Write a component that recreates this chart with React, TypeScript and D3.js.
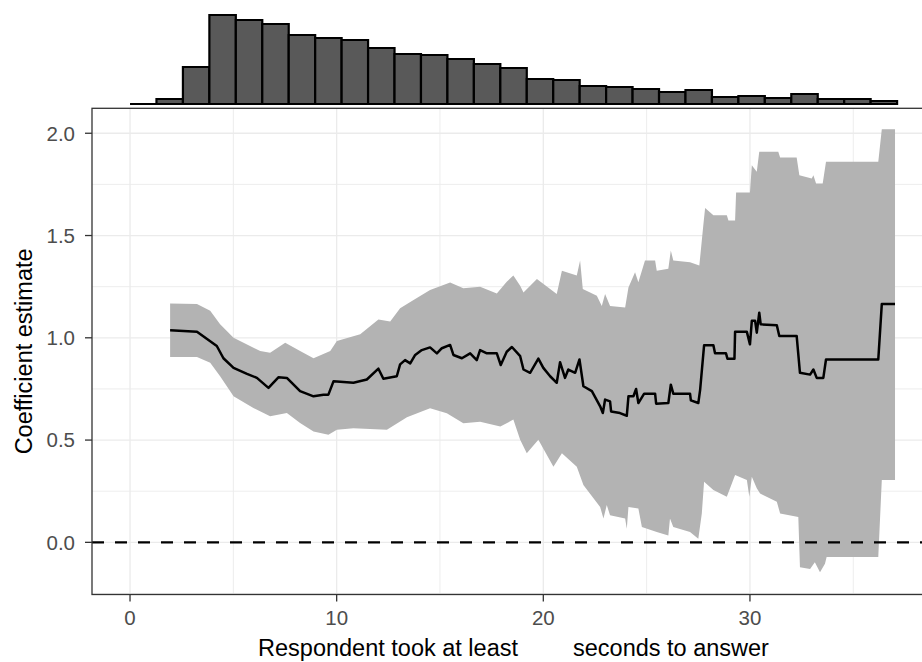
import * as d3 from 'd3'

// marginal histogram of response times (bins start at 0 s)
const histStart = 0
const histBinWidth = 1.28
const histCounts = [0, 5, 37, 89, 84, 80, 69, 66, 64, 56, 50, 49, 45, 40, 36, 25, 24, 18, 17, 15, 12, 14, 7, 8, 6, 10, 5, 5, 3]

// coefficient estimate by minimum response time
const estSec = [1.94, 3.24, 4.2, 4.52, 5.01, 5.66, 6.14, 6.7, 7.18, 7.59, 8.23, 8.88, 9.36, 9.6, 9.85, 10.81, 11.46, 12.02, 12.26, 12.91, 13.07, 13.31, 13.56, 13.8, 14.12, 14.52, 14.85, 15.09, 15.49, 15.65, 16.06, 16.46, 16.78, 16.94, 17.27, 17.75, 17.94, 18.23, 18.48, 18.88, 19.04, 19.36, 19.76, 20.0, 20.33, 20.65, 20.81, 21.05, 21.21, 21.54, 21.75, 21.94, 22.35, 22.75, 22.88, 22.99, 23.23, 23.28, 23.71, 24.04, 24.12, 24.36, 24.49, 24.6, 24.88, 25.41, 25.46, 26.05, 26.17, 26.29, 27.1, 27.14, 27.5, 27.59, 27.78, 28.23, 28.31, 28.84, 28.91, 29.25, 29.28, 29.85, 30.0, 30.09, 30.25, 30.33, 30.45, 30.52, 31.3, 31.42, 32.26, 32.42, 32.91, 33.07, 33.23, 33.55, 33.68, 36.21, 36.38, 37.02]
const estimate = [1.037, 1.03, 0.96, 0.9, 0.853, 0.824, 0.804, 0.755, 0.807, 0.804, 0.739, 0.714, 0.722, 0.722, 0.788, 0.78, 0.796, 0.849, 0.8, 0.812, 0.87, 0.891, 0.875, 0.916, 0.94, 0.953, 0.924, 0.949, 0.965, 0.916, 0.9, 0.924, 0.891, 0.94, 0.924, 0.924, 0.867, 0.932, 0.955, 0.91, 0.845, 0.829, 0.898, 0.853, 0.812, 0.78, 0.881, 0.804, 0.845, 0.829, 0.894, 0.763, 0.739, 0.665, 0.632, 0.698, 0.689, 0.64, 0.632, 0.619, 0.714, 0.714, 0.75, 0.681, 0.727, 0.727, 0.678, 0.681, 0.771, 0.727, 0.727, 0.694, 0.681, 0.747, 0.963, 0.963, 0.924, 0.924, 0.898, 0.898, 1.029, 1.029, 0.968, 1.083, 1.083, 1.025, 1.123, 1.066, 1.061, 1.009, 1.009, 0.829, 0.82, 0.845, 0.804, 0.804, 0.894, 0.894, 1.165, 1.165]

// upper confidence bound
const upperSec = [1.94, 3.24, 3.88, 4.36, 5.01, 6.3, 6.78, 7.51, 8.23, 8.88, 9.69, 10.01, 11.14, 12.02, 12.59, 13.07, 13.72, 14.52, 15.49, 16.13, 16.94, 17.75, 18.23, 18.55, 18.88, 19.04, 19.69, 20.33, 20.65, 20.9, 21.62, 21.78, 21.91, 22.59, 22.83, 22.99, 23.23, 23.96, 24.12, 24.44, 24.6, 24.92, 25.41, 25.49, 26.05, 26.17, 26.29, 27.1, 27.55, 27.75, 27.83, 28.23, 28.88, 28.96, 29.28, 29.33, 30.0, 30.09, 30.33, 30.45, 31.37, 31.46, 32.26, 32.39, 32.99, 33.07, 33.2, 33.52, 33.68, 36.21, 36.38, 37.02]
const upper = [1.168, 1.165, 1.132, 1.066, 1.0, 0.935, 0.927, 0.976, 0.935, 0.9, 0.935, 0.984, 1.017, 1.09, 1.08, 1.144, 1.185, 1.234, 1.27, 1.242, 1.25, 1.217, 1.274, 1.304, 1.255, 1.222, 1.287, 1.238, 1.214, 1.328, 1.304, 1.378, 1.238, 1.206, 1.156, 1.214, 1.156, 1.148, 1.246, 1.32, 1.271, 1.378, 1.378, 1.328, 1.337, 1.427, 1.378, 1.369, 1.353, 1.558, 1.635, 1.599, 1.599, 1.574, 1.574, 1.71, 1.71, 1.844, 1.812, 1.91, 1.91, 1.881, 1.881, 1.795, 1.779, 1.795, 1.754, 1.754, 1.861, 1.861, 2.02, 2.02]

// lower confidence bound
const lowerSec = [1.94, 3.24, 3.88, 4.36, 5.01, 5.97, 6.78, 7.59, 8.23, 8.88, 9.6, 10.01, 10.81, 12.43, 13.4, 14.52, 15.33, 16.13, 16.94, 17.92, 18.55, 18.88, 19.2, 19.76, 20.49, 20.9, 21.62, 21.94, 22.75, 22.91, 23.07, 23.23, 23.96, 24.04, 24.12, 24.6, 24.77, 25.49, 26.05, 26.13, 26.29, 27.1, 27.5, 27.67, 27.78, 28.23, 28.88, 29.28, 29.85, 29.97, 30.09, 30.33, 30.49, 31.3, 31.46, 32.34, 32.42, 32.91, 33.14, 33.39, 33.63, 33.71, 36.21, 36.38, 37.02]
const lower = [0.906, 0.906, 0.878, 0.812, 0.714, 0.657, 0.616, 0.632, 0.583, 0.542, 0.526, 0.55, 0.558, 0.55, 0.612, 0.656, 0.631, 0.582, 0.59, 0.566, 0.6, 0.501, 0.436, 0.501, 0.37, 0.436, 0.37, 0.28, 0.173, 0.116, 0.182, 0.133, 0.116, 0.067, 0.173, 0.165, 0.075, 0.051, 0.034, 0.116, 0.075, 0.051, 0.018, 0.141, 0.296, 0.256, 0.223, 0.329, 0.305, 0.223, 0.321, 0.264, 0.239, 0.198, 0.141, 0.124, -0.122, -0.13, -0.097, -0.146, -0.105, -0.072, -0.072, 0.305, 0.305]

const xMajor = [0, 10, 20, 30]
const xMinor = [5, 15, 25, 35]
const yMajor = [0, 0.5, 1, 1.5, 2]
const yMinor = [-0.25, 0.25, 0.75, 1.25, 1.75]
const yTickLabels = ['0.0', '0.5', '1.0', '1.5', '2.0']

const W = 922
const H = 662
const panel = { left: 92, right: 928.5, top: 108.3, bottom: 594.5 }
const font = '"Liberation Sans", Arial, Helvetica, sans-serif'

export default function App() {
  const x = d3.scaleLinear().domain([-1.84, 38.64]).range([panel.left, panel.right])
  const y = d3.scaleLinear().domain([-0.255, 2.122]).range([panel.bottom, panel.top])
  const hy = d3.scaleLinear().domain([0, d3.max(histCounts) as number]).range([104, 15])

  const pts = (xs: number[], vs: number[]) => xs.map((s, i) => [s, vs[i]] as [number, number])
  const line = d3.line<[number, number]>().x(d => x(d[0])).y(d => y(d[1]))
  const ribbon = line([...pts(upperSec, upper), ...pts(lowerSec, lower).reverse()]) + 'Z'

  return (
    <svg width={W} height={H} style={{ position: 'absolute', left: 0, top: 0, background: '#fff' }}>
      {/* marginal histogram, drawn as paths so empty bins still show as a line */}
      <g fill="#595959" stroke="#000" strokeWidth={2.2}>
        {histCounts.map((c, i) => {
          const x0 = x(histStart + i * histBinWidth)
          const x1 = x(histStart + (i + 1) * histBinWidth)
          return <path key={i} d={`M${x0},${hy(0)}V${hy(c)}H${x1}V${hy(0)}Z`} />
        })}
      </g>

      {/* main panel grid */}
      <g stroke="#ebebeb">
        {xMinor.map(v => <line key={'xm' + v} x1={x(v)} x2={x(v)} y1={panel.top} y2={panel.bottom} strokeWidth={0.9} />)}
        {yMinor.map(v => <line key={'ym' + v} x1={panel.left} x2={panel.right} y1={y(v)} y2={y(v)} strokeWidth={0.9} />)}
        {xMajor.map(v => <line key={'xM' + v} x1={x(v)} x2={x(v)} y1={panel.top} y2={panel.bottom} strokeWidth={1.3} />)}
        {yMajor.map(v => <line key={'yM' + v} x1={panel.left} x2={panel.right} y1={y(v)} y2={y(v)} strokeWidth={1.3} />)}
      </g>

      <path d={ribbon} fill="#b3b3b3" />
      <line x1={panel.left} x2={panel.right} y1={y(0)} y2={y(0)} stroke="#000" strokeWidth={2.2} strokeDasharray="12,11" />
      <path d={line(pts(estSec, estimate)) as string} fill="none" stroke="#000" strokeWidth={2.5} strokeLinejoin="round" />

      <rect x={panel.left} y={panel.top} width={panel.right - panel.left} height={panel.bottom - panel.top}
        fill="none" stroke="#333" strokeWidth={1.3} />

      {/* axes */}
      <g fontFamily={font} fontSize={20.5} fill="#4d4d4d">
        {yMajor.map((v, i) => (
          <g key={'yt' + v}>
            <line x1={panel.left - 7} x2={panel.left} y1={y(v)} y2={y(v)} stroke="#333" strokeWidth={1.3} />
            <text x={panel.left - 17} y={y(v)} dy="0.36em" textAnchor="end">{yTickLabels[i]}</text>
          </g>
        ))}
        {xMajor.map(v => (
          <g key={'xt' + v}>
            <line x1={x(v)} x2={x(v)} y1={panel.bottom} y2={panel.bottom + 7} stroke="#333" strokeWidth={1.3} />
            <text x={x(v)} y={624.5} textAnchor="middle">{v}</text>
          </g>
        ))}
      </g>

      <g fontFamily={font} fontSize={23.5} fill="#000">
        <text transform={`translate(32,${(panel.top + panel.bottom) / 2}) rotate(-90)`} textAnchor="middle">Coefficient estimate</text>
        <text x={518} y={656} textAnchor="end">Respondent took at least</text>
        <text x={573} y={656} textAnchor="start">seconds to answer</text>
      </g>
    </svg>
  )
}
